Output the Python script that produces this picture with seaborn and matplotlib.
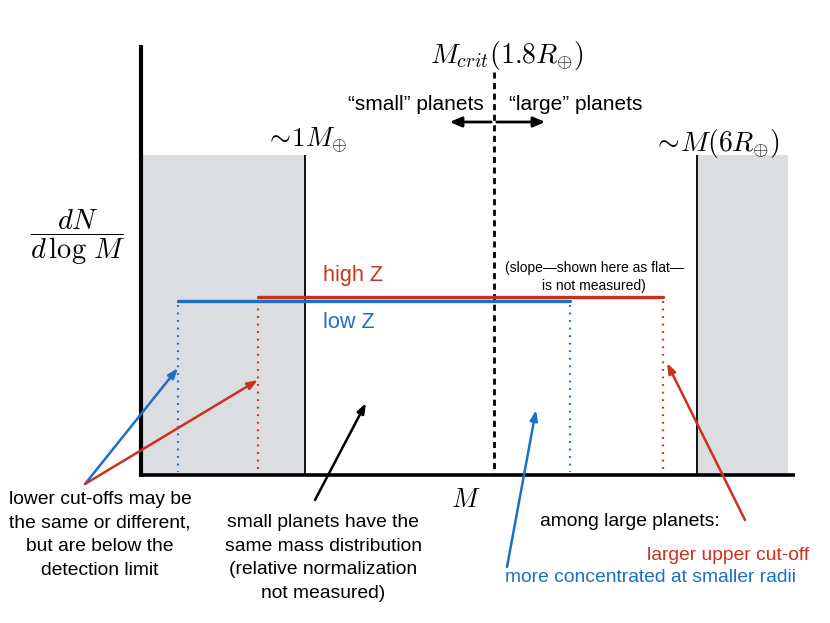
import numpy as np
import pandas as pd
import seaborn as sns
import matplotlib.pyplot as plt
from matplotlib.patches import Rectangle

# schematic coordinates (figure pixel space, y grows downward)
BASE_Y = 475
TOP_Y = 45
AXIS_X0, AXIS_X1 = 141, 795
CRIT_X = 494
DET_LO, DET_HI = 305, 697
SHADE_TOP = 155

populations = ["high Z", "low Z"]
cut_lo = [258, 178]
cut_hi = [663, 570]
level = [297, 301]
colors = {"high Z": "#c9321f", "low Z": "#1c6fc6"}

df = pd.DataFrame({
    "pop": np.repeat(populations, 2),
    "x": [cut_lo[0], cut_hi[0], cut_lo[1], cut_hi[1]],
    "y": np.repeat(level, 2),
})

sns.set_style("white")
plt.rcParams["font.family"] = ["Liberation Sans", "DejaVu Sans"]
plt.rcParams["mathtext.fontset"] = "cm"
plt.rcParams["text.color"] = "black"

fig = plt.figure(figsize=(8.3, 6.23), dpi=100)
ax = fig.add_axes([0, 0, 1, 1])
ax.set_xlim(0, 830)
ax.set_ylim(623, 0)
ax.axis("off")

# shaded regions beyond detection limits
ax.add_patch(Rectangle((AXIS_X0, SHADE_TOP), DET_LO - AXIS_X0, BASE_Y - SHADE_TOP,
                       color="#dcdde0", lw=0, zorder=0))
ax.add_patch(Rectangle((DET_HI, SHADE_TOP), 788 - DET_HI, BASE_Y - SHADE_TOP,
                       color="#dcdde0", lw=0, zorder=0))
ax.vlines([DET_LO, DET_HI], SHADE_TOP, BASE_Y, color="black", lw=1.3, zorder=2)

# axes
ax.plot([AXIS_X0, AXIS_X0], [TOP_Y, BASE_Y + 1.5], color="black", lw=3, zorder=3,
        solid_capstyle="butt")
ax.plot([AXIS_X0 - 1.5, AXIS_X1], [BASE_Y, BASE_Y], color="black", lw=2.6, zorder=3,
        solid_capstyle="butt")

# critical mass line
ax.plot([CRIT_X, CRIT_X], [72, BASE_Y], color="black", lw=2, ls=(0, (2.2, 1.6)), zorder=2)

# distributions
sns.lineplot(data=df, x="x", y="y", hue="pop", palette=colors, lw=2.4,
             legend=False, estimator=None, sort=False, ax=ax, zorder=4)
for p, lo, hi, lv in zip(populations, cut_lo, cut_hi, level):
    ax.vlines([lo, hi], lv + 4, BASE_Y - 3, color=colors[p], lw=1.6,
              ls=(0, (0.8, 2.6)), zorder=3)
ax.set_xlabel("")
ax.set_ylabel("")

# labels
fs = 13.9
ls = 1.5
ax.text(507, 55, r"$M_{crit}(1.8R_{\oplus})$", fontsize=20, ha="center", va="center")
ax.text(484, 104, "\u201csmall\u201d planets", fontsize=15, ha="right", va="center")
ax.text(509, 104, "\u201clarge\u201d planets", fontsize=15, ha="left", va="center")
ax.annotate("", xy=(447, 122), xytext=(CRIT_X, 122),
            arrowprops=dict(arrowstyle="-|>,head_length=0.7,head_width=0.3", lw=2, color="black"))
ax.annotate("", xy=(548, 122), xytext=(CRIT_X, 122),
            arrowprops=dict(arrowstyle="-|>,head_length=0.7,head_width=0.3", lw=2, color="black"))
ax.text(306, 140, r"$\sim\!1M_{\oplus}$", fontsize=19.5, ha="center", va="center")
ax.text(716, 143, r"$\sim\!M(6R_{\oplus})$", fontsize=20, ha="center", va="center")
ax.text(78, 237, r"$\dfrac{dN}{d\,\log\,M}$", fontsize=20.5, ha="center", va="center")
ax.text(466, 500, r"$M$", fontsize=19, ha="center", va="center")

ax.text(323, 275, "high Z", color=colors["high Z"], fontsize=15.6, ha="left", va="center")
ax.text(323, 323, "low Z", color=colors["low Z"], fontsize=15.6, ha="left", va="center")
ax.text(594, 277, "(slope\u2014shown here as flat\u2014\nis not measured)", fontsize=10,
        ha="center", va="center", multialignment="center", linespacing=1.45)

ax.text(100, 535, "lower cut-offs may be\nthe same or different,\nbut are below the\ndetection limit",
        fontsize=fs, ha="center", va="center", linespacing=ls)
ax.text(323, 558, "small planets have the\nsame mass distribution\n(relative normalization\nnot measured)",
        fontsize=fs, ha="center", va="center", linespacing=ls)
ax.text(630, 521, "among large planets:", fontsize=fs, ha="center", va="center")
ax.text(809, 555, "larger upper cut-off", color=colors["high Z"], fontsize=fs, ha="right", va="center")
ax.text(505, 578, "more concentrated at smaller radii", color=colors["low Z"], fontsize=fs,
        ha="left", va="center")

# pointer arrows
arrows = [
    ((85, 484), (178, 368), colors["low Z"]),
    ((85, 484), (258, 380), colors["high Z"]),
    ((315, 500), (366, 403), "black"),
    ((507, 567), (536, 410), colors["low Z"]),
    ((745, 520), (667, 363), colors["high Z"]),
]
for start, end, c in arrows:
    ax.annotate("", xy=end, xytext=start,
                arrowprops=dict(arrowstyle="-|>,head_length=0.6,head_width=0.22",
                                lw=1.8, color=c, shrinkA=0, shrinkB=0))

fig.savefig("out.png", dpi=100)
